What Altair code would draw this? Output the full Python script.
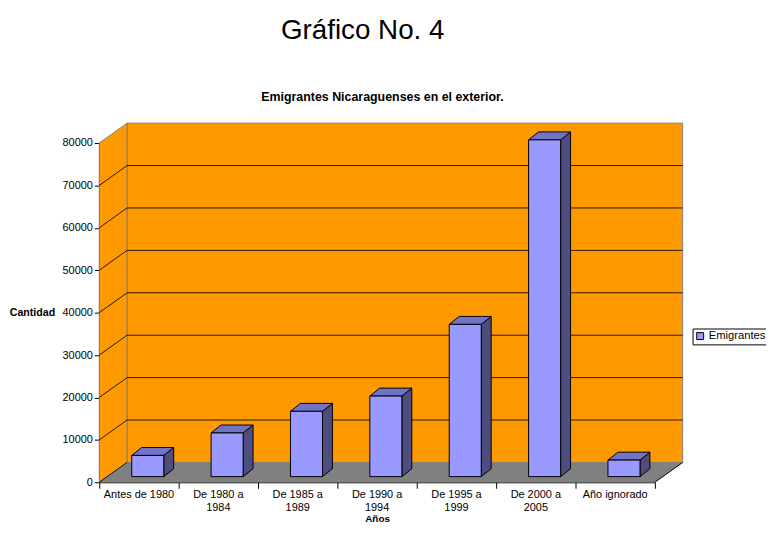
import altair as alt
import pandas as pd

# ---------------- data ----------------
categorias = ["Antes de 1980", "De 1980 a 1984", "De 1985 a 1989", "De 1990 a 1994",
              "De 1995 a 1999", "De 2000 a 2005", "Año ignorado"]
emigrantes = [5000, 10300, 15400, 19000, 35900, 79400, 3900]
serie = "Emigrantes"
y_ticks = [0, 10000, 20000, 30000, 40000, 50000, 60000, 70000, 80000]
titulo = "Gráfico No. 4"
subtitulo = "Emigrantes Nicaraguenses en el exterior."

# ---------------- style / geometry constants ----------------
W, H = 560, 342            # front plot box in px
YMAX = 80000
N = len(categorias)
WALL_DX, WALL_DY = 28, 20  # depth of the 3D box (px)
BAR_DX, BAR_DY = 10, 8     # depth of each bar (px)
BAR_L, BAR_R = 32.7 / 80, 65 / 80   # bar front face inside each category step
BASE_SHIFT = -5.7          # bar base sits slightly behind the front edge (px)
ux = N / W                 # data units per px (x)
uy = YMAX / H              # data units per px (y)

ORANGE = "#FF9900"
FLOOR = "#808080"
FRONT = "#9999FF"
TOP = "#7373C6"
SIDE = "#4D4D80"
FONT = "Liberation Sans"

xs = alt.Scale(domain=[0, N], nice=False, zero=False)
ys = alt.Scale(domain=[0, YMAX], nice=False, zero=False)

# ---------------- derived tables ----------------
def split_label(s):
    if " a " in s:
        a, b = s.split(" a ", 1)
        return a + " a\n" + b
    return s

front = pd.DataFrame({
    "cat": categorias,
    "v": emigrantes,
    "serie": serie,
    "xl": [i + BAR_L for i in range(N)],
    "xr": [i + BAR_R for i in range(N)],
})
labels = pd.DataFrame({
    "lab": [split_label(c) for c in categorias],
    "xc": [i + 0.5 for i in range(N)],
})

side_rows, top_rows = [], []
for i, (c, v) in enumerate(zip(categorias, emigrantes)):
    xl, xr = i + BAR_L, i + BAR_R
    ddx, ddy = BAR_DX * ux, BAR_DY * uy
    side_rows += [
        {"cat": c, "x": xr, "top": v, "bot": 0},
        {"cat": c, "x": xr + ddx, "top": v + ddy, "bot": ddy},
    ]
    top_rows += [
        {"cat": c, "x": xl, "top": v, "bot": v},
        {"cat": c, "x": xl + ddx, "top": v + ddy, "bot": v},
        {"cat": c, "x": xr, "top": v + ddy, "bot": v},
        {"cat": c, "x": xr + ddx, "top": v + ddy, "bot": v + ddy},
    ]
side = pd.DataFrame(side_rows)
topf = pd.DataFrame(top_rows)

wdx, wdy = WALL_DX * ux, WALL_DY * uy
left_wall = pd.DataFrame({"x": [0, wdx], "top": [YMAX, YMAX + wdy], "bot": [0, wdy]})
floor = pd.DataFrame({"x": [0, wdx, N, N + wdx],
                      "top": [0, wdy, wdy, wdy],
                      "bot": [0, 0, 0, wdy]})
grid = pd.DataFrame({"v": y_ticks})
one = pd.DataFrame({"k": [0]})

x_axis = alt.Axis(
    values=list(range(N + 1)), labels=False, title="Años",
    grid=False, domainColor="#000000", domainWidth=1,
    tickColor="#000000", tickSize=6, tickWidth=1,
    titleFont=FONT, titleFontSize=10, titleFontWeight="bold",
    titleColor="#000000", titlePadding=25,
)
y_axis = alt.Axis(
    values=y_ticks, format="d", title="Cantidad", grid=False,
    domainColor="#000000", domainWidth=1, tickColor="#000000",
    tickSize=5, tickWidth=1,
    labelFont=FONT, labelFontSize=11, labelColor="#000000", labelPadding=2,
    titleFont=FONT, titleFontSize=10.7, titleFontWeight="bold",
    titleColor="#000000", titleAngle=0, titleAlign="right",
    titleBaseline="middle", titleX=-45, titleY=H / 2,
)

# ---------------- layers ----------------
bar_front = alt.Chart(front).mark_rect(
    stroke="#000000", strokeWidth=1, yOffset=BASE_SHIFT, y2Offset=BASE_SHIFT
).encode(
    x=alt.X("xl:Q", scale=xs, axis=x_axis),
    x2="xr:Q",
    y=alt.Y("v:Q", scale=ys, axis=y_axis),
    y2=alt.Y2(datum=0),
    color=alt.Color("serie:N", scale=alt.Scale(range=[FRONT]), legend=alt.Legend(
        title=None, orient="none", legendX=598, legendY=187,
        symbolType="square", symbolSize=49, symbolStrokeColor="#000000",
        symbolStrokeWidth=1, labelFont=FONT, labelFontSize=11.3,
        labelColor="#000000", labelOffset=3, strokeColor="#000000",
        fillColor="#FFFFFF", padding=2,
    )),
)

cat_labels = alt.Chart(labels).mark_text(
    font=FONT, fontSize=11, color="#000000", align="center", baseline="top",
    lineBreak="\n", lineHeight=13
).encode(
    x=alt.X("xc:Q", scale=xs),
    y=alt.value(H + 7),
    text="lab:N",
)

back_wall = alt.Chart(one).mark_rect(
    fill=ORANGE, stroke=FLOOR, strokeWidth=1,
    xOffset=WALL_DX, x2Offset=WALL_DX, yOffset=-WALL_DY, y2Offset=-WALL_DY
).encode(
    x=alt.X(datum=0, scale=xs), x2=alt.X2(datum=N),
    y=alt.Y(datum=0, scale=ys), y2=alt.Y2(datum=YMAX),
)

left = alt.Chart(left_wall).mark_area(
    fill=ORANGE, stroke=FLOOR, strokeWidth=1, orient="vertical"
).encode(
    x=alt.X("x:Q", scale=xs),
    y=alt.Y("top:Q", scale=ys, stack=None),
    y2="bot:Q",
)

floor_l = alt.Chart(floor).mark_area(fill=FLOOR, orient="vertical").encode(
    x=alt.X("x:Q", scale=xs),
    y=alt.Y("top:Q", scale=ys, stack=None),
    y2="bot:Q",
)

back_grid = alt.Chart(grid).transform_filter(
    (alt.datum.v > 0) & (alt.datum.v < YMAX)
).mark_rule(
    color="#000000", strokeWidth=1, opacity=0.85,
    xOffset=WALL_DX, x2Offset=WALL_DX, yOffset=-WALL_DY
).encode(
    x=alt.X(datum=0, scale=xs), x2=alt.X2(datum=N),
    y=alt.Y("v:Q", scale=ys),
)

side_grid = alt.Chart(grid).transform_filter(alt.datum.v < YMAX).mark_rule(
    color="#000000", strokeWidth=1, opacity=0.85,
    x2Offset=WALL_DX, y2Offset=-WALL_DY
).encode(
    x=alt.X(datum=0, scale=xs), x2=alt.X2(datum=0),
    y=alt.Y("v:Q", scale=ys), y2="v:Q",
)

right_edge = alt.Chart(one).mark_rule(
    color="#000000", strokeWidth=1, x2Offset=WALL_DX, y2Offset=-WALL_DY
).encode(
    x=alt.X(datum=N, scale=xs), x2=alt.X2(datum=N),
    y=alt.Y(datum=0, scale=ys), y2=alt.Y2(datum=0),
)

bar_side = alt.Chart(side).mark_area(
    fill=SIDE, stroke="#000000", strokeWidth=1, orient="vertical",
    yOffset=BASE_SHIFT, y2Offset=BASE_SHIFT
).encode(
    x=alt.X("x:Q", scale=xs),
    y=alt.Y("top:Q", scale=ys, stack=None),
    y2="bot:Q",
    detail="cat:N",
)

bar_top = alt.Chart(topf).mark_area(
    fill=TOP, stroke="#000000", strokeWidth=1, orient="vertical",
    yOffset=BASE_SHIFT, y2Offset=BASE_SHIFT
).encode(
    x=alt.X("x:Q", scale=xs),
    y=alt.Y("top:Q", scale=ys, stack=None),
    y2="bot:Q",
    detail="cat:N",
)

title_l = alt.Chart(one).mark_text(
    text=titulo, font=FONT, fontSize=28, color="#000000",
    align="center", baseline="alphabetic"
).encode(x=alt.value(265.5), y=alt.value(-105))

subtitle_l = alt.Chart(one).mark_text(
    text=subtitulo, font=FONT, fontSize=12.5, fontWeight="bold", color="#000000",
    align="center", baseline="alphabetic"
).encode(x=alt.value(285.4), y=alt.value(-42))

chart = alt.layer(
    back_wall, left, floor_l, back_grid, side_grid, right_edge,
    bar_side, bar_top, bar_front, cat_labels, title_l, subtitle_l
).properties(
    width=W, height=H,
    autosize=alt.AutoSizeParams(type="none"),
    padding={"left": 92, "top": 134, "right": 112, "bottom": 41},
    background="#FFFFFF",
).configure_view(strokeWidth=0)

chart.save("out.html", embed_options={"renderer": "svg", "actions": False})
